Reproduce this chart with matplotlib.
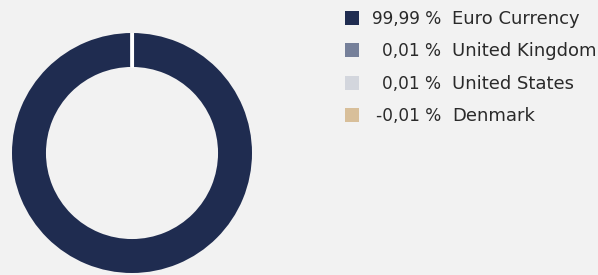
import numpy as np
import matplotlib.pyplot as plt
from matplotlib.patches import Rectangle

# data
labels = ["Euro Currency", "United Kingdom", "United States", "Denmark"]
values = [99.99, 0.01, 0.01, -0.01]
pct_text = ["99,99 %", "0,01 %", "0,01 %", "-0,01 %"]
colors = ["#1f2c50", "#76809a", "#d3d6dd", "#d8bf9a"]

plt.rcParams['font.family'] = ['DejaVu Sans']
bg = "#f2f2f2"

fig = plt.figure(figsize=(5.98, 2.75), dpi=100, facecolor=bg)

# donut (negative slices can't be drawn)
ax = fig.add_axes([12 / 598, (275 - 273) / 275, 240 / 598, 240 / 275])
ax.set_facecolor(bg)
pos = [max(v, 0) for v in values]
inner = 0.717
ax.pie(pos, colors=colors, startangle=90, counterclock=False,
       radius=1.0, wedgeprops=dict(width=1 - inner, linewidth=0))
# white separators between slices
cum = np.cumsum([0] + pos) / sum(pos)
for f in cum[:-1]:
    a = np.deg2rad(90 - 360 * f)
    ax.plot([inner * np.cos(a), 1.01 * np.cos(a)], [inner * np.sin(a), 1.01 * np.sin(a)],
            color="white", lw=2.2, solid_capstyle="butt")
ax.set_xlim(-1, 1)
ax.set_ylim(-1, 1)
ax.set_aspect("equal")
ax.axis("off")

# legend
lx = fig.add_axes([0, 0, 1, 1])
lx.set_xlim(0, 598)
lx.set_ylim(275, 0)
lx.axis("off")
rows_y = [18, 50, 83, 115]
for y, c, p, lab in zip(rows_y, colors, pct_text, labels):
    lx.add_patch(Rectangle((345, y - 7), 14, 14, color=c, lw=0))
    lx.text(441, y + 1, p, ha="right", va="center", fontsize=12.2, color="#2a2a2a")
    lx.text(452, y + 1, lab, ha="left", va="center", fontsize=13, color="#2a2a2a")

fig.savefig("out.png", dpi=100, facecolor=bg)
